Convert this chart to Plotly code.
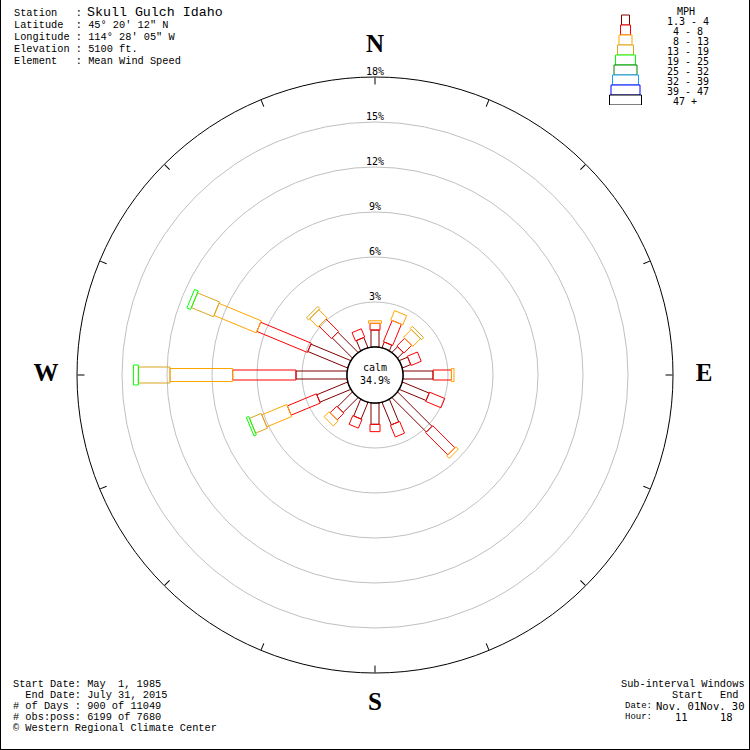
import math
import plotly.graph_objects as go

# ---------------- data ----------------
directions = ["N", "NNE", "NE", "ENE", "E", "ESE", "SE", "SSE",
              "S", "SSW", "SW", "WSW", "W", "WNW", "NW", "NNW"]
bearings = [0, 22.5, 45, 67.5, 90, 112.5, 135, 157.5,
            180, 202.5, 225, 247.5, 270, 292.5, 315, 337.5]
speed_classes = ["1.3 - 4", "4 - 8", "8 - 13", "13 - 19", "19 - 25",
                 "25 - 32", "32 - 39", "39 - 47", "47 +"]
# percent frequency per direction for each speed class (MPH)
pct_1_3_to_4 = [1.13, 0.40, 0.53, 0.60, 2.00, 1.93, 3.24, 1.62,
                1.42, 1.20, 1.40, 2.22, 3.40, 2.87, 1.90, 0.73]
pct_4_to_8 = [0.45, 1.53, 0.73, 0.73, 1.23, 1.10, 2.09, 0.85,
              0.49, 0.63, 0.63, 2.10, 4.22, 3.65, 1.18, 0.60]
pct_8_to_13 = [0.17, 0.67, 0.73, 0.00, 0.17, 0.00, 0.23, 0.00,
               0.00, 0.00, 0.47, 1.80, 4.18, 3.05, 0.78, 0.00]
pct_13_to_19 = [0.00, 0.00, 0.20, 0.00, 0.00, 0.00, 0.00, 0.00,
                0.00, 0.00, 0.00, 0.85, 2.11, 1.59, 0.20, 0.00]
pct_19_to_25 = [0.00, 0.00, 0.00, 0.00, 0.00, 0.00, 0.00, 0.00,
                0.00, 0.00, 0.00, 0.17, 0.33, 0.27, 0.00, 0.00]
pct_25_to_32 = [0.0] * 16
pct_32_to_39 = [0.0] * 16
pct_39_to_47 = [0.0] * 16
pct_47_plus = [0.0] * 16
calm_pct = 34.9
ring_pcts = [3, 6, 9, 12, 15, 18]
compass_labels = ["N", "E", "S", "W"]
compass_bearings = [0, 90, 180, 270]

station_lines = [("Station\u00a0\u00a0\u00a0:", "Skull Gulch Idaho"),
                 ("Latitude\u00a0\u00a0: 45\u00b0 20' 12\" N", None),
                 ("Longitude : 114\u00b0 28' 05\" W", None),
                 ("Elevation : 5100 ft.", None),
                 ("Element\u00a0\u00a0\u00a0: Mean Wind Speed", None)]
period_lines = ["Start Date: May\u00a0\u00a01, 1985",
                "\u00a0\u00a0End Date: July 31, 2015",
                "# of Days : 900 of 11049",
                "# obs:poss: 6199 of 7680",
                "\u00a9\u00a0Western Regional Climate Center"]

# ---------------- style ----------------
class_colors = ["#800000", "#ff0000", "#ffa500", "#daa520", "#00ff00",
                "#008000", "#1e9bff", "#0000ff", "#000000"]
half_width_px = [4, 5, 6.5, 8, 10, 11.5, 13, 14.5, 16]
legend_width_px = [8, 10, 13, 16, 20, 23, 26, 29, 32]
PX_PER_PCT = 15.0
CALM_R = 28 / PX_PER_PCT           # calm circle radius in percent units
R_MAX = CALM_R + ring_pcts[-1]
W = H = 750
CX = CY = 375
R_PX = R_MAX * PX_PER_PCT
COMPASS_R_PX = 329

classes = [pct_1_3_to_4, pct_4_to_8, pct_8_to_13, pct_13_to_19, pct_19_to_25,
           pct_25_to_32, pct_32_to_39, pct_39_to_47, pct_47_plus]

fig = go.Figure()

# petals: stacked rectangles of constant width
for k, vals in enumerate(classes):
    rr, tt = [], []
    hw = half_width_px[k] / PX_PER_PCT
    for j, b in enumerate(bearings):
        v = vals[j]
        if v <= 0:
            continue
        d0 = CALM_R + sum(classes[m][j] for m in range(k))
        d1 = d0 + v
        for d, s in [(d0, -hw), (d1, -hw), (d1, hw), (d0, hw), (d0, -hw)]:
            rr.append(math.hypot(d, s))
            tt.append(b + math.degrees(math.atan2(s, d)))
        rr.append(None)
        tt.append(None)
    if rr:
        fig.add_trace(go.Scatterpolar(r=rr, theta=tt, mode="lines",
                                      line=dict(color=class_colors[k], width=1),
                                      hoverinfo="skip", showlegend=False))

# calm circle
circ_t = [i * 3 for i in range(121)]
fig.add_trace(go.Scatterpolar(r=[CALM_R] * len(circ_t), theta=circ_t, mode="lines",
                              fill="toself", fillcolor="white",
                              line=dict(color="black", width=1.5),
                              hoverinfo="skip", showlegend=False))
fig.add_trace(go.Scatterpolar(r=[0], theta=[0], mode="text",
                              text=["calm<br>%.1f%%" % calm_pct],
                              textposition="middle center",
                              textfont=dict(family="DejaVu Sans Mono", size=10, color="black"),
                              hoverinfo="skip", showlegend=False))

# ring labels
fig.add_trace(go.Scatterpolar(r=[CALM_R + p for p in ring_pcts], theta=[0] * len(ring_pcts),
                              mode="text", text=["%d%%" % p for p in ring_pcts],
                              textposition="top center", cliponaxis=False,
                              textfont=dict(family="DejaVu Sans Mono", size=10, color="black"),
                              hoverinfo="skip", showlegend=False))

# compass letters on an outer, invisible polar frame
fig.add_trace(go.Scatterpolar(r=[1] * 4, theta=compass_bearings, mode="text",
                              text=["<b>%s</b>" % c for c in compass_labels], subplot="polar2",
                              textposition="middle center", cliponaxis=False,
                              textfont=dict(family="Liberation Serif", size=25, color="black"),
                              hoverinfo="skip", showlegend=False))

# legend boxes (cartesian helper axes, 1 unit = 1 px horizontally)
LEG_CX = 25.5
fig.add_trace(go.Bar(orientation="h", y=list(range(len(speed_classes))),
                     x=legend_width_px,
                     base=[LEG_CX - w / 2 for w in legend_width_px],
                     width=1.0,
                     marker=dict(color="white", line=dict(color=class_colors, width=1)),
                     xaxis="x", yaxis="y", hoverinfo="skip", showlegend=False))

annotations = []
leg_labels = ["1.3 - 4", "\u00a04 - 8", "\u00a08 - 13", "13 - 19", "19 - 25",
              "25 - 32", "32 - 39", "39 - 47", "\u00a047 +"]
for i, lab in enumerate(leg_labels):
    annotations.append(dict(x=65, y=i + 0.15, xref="x", yref="y", text=lab,
                            showarrow=False, xanchor="left", yanchor="middle",
                            font=dict(family="DejaVu Sans Mono", size=10, color="black")))
annotations.append(dict(x=86, y=-0.9, xref="x", yref="y", text="MPH", showarrow=False,
                        xanchor="center", yanchor="middle",
                        font=dict(family="DejaVu Sans Mono", size=10, color="black")))


def px(x, y):
    return x / W, 1 - y / H


hdr_font = dict(family="Liberation Mono", size=10.3, color="black")
small_font = dict(family="Liberation Mono", size=9, color="black")
val_font = dict(family="DejaVu Sans Mono", size=10.5, color="black")
for i, (lab, big) in enumerate(station_lines):
    x, y = px(12, 13 + 12 * i)
    annotations.append(dict(x=x, y=y, xref="paper", yref="paper", text=lab, showarrow=False,
                            xanchor="left", yanchor="middle", font=hdr_font))
    if big:
        x, y = px(85, 12.5)
        annotations.append(dict(x=x, y=y, xref="paper", yref="paper", text=big, showarrow=False,
                                xanchor="left", yanchor="middle",
                                font=dict(family="Liberation Mono", size=13.3, color="black")))

for i, lab in enumerate(period_lines):
    x, y = px(11, 684 + 11 * i)
    annotations.append(dict(x=x, y=y, xref="paper", yref="paper", text=lab, showarrow=False,
                            xanchor="left", yanchor="middle", font=hdr_font))

br = [(619, 683.5, "Sub-interval Windows", hdr_font),
      (670, 695, "Start", hdr_font),
      (718, 695, "End", hdr_font),
      (623, 706, "Date:", small_font),
      (654, 706, "Nov. 01Nov. 30", val_font),
      (623, 717, "Hour:", small_font),
      (673, 717, "11", val_font),
      (718, 717, "18", val_font)]
for bx, by, t, f in br:
    x, y = px(bx, by)
    annotations.append(dict(x=x, y=y, xref="paper", yref="paper", text=t, showarrow=False,
                            xanchor="left", yanchor="middle", font=f))

dom = [(CX - R_PX) / W, (CX + R_PX) / W]
dom2 = [(CX - COMPASS_R_PX) / W, (CX + COMPASS_R_PX) / W]

fig.update_layout(
    width=W, height=H, margin=dict(l=0, r=0, t=0, b=0),
    paper_bgcolor="white", plot_bgcolor="white",
    showlegend=False,
    polar=dict(
        domain=dict(x=dom, y=dom),
        bgcolor="white",
        radialaxis=dict(range=[0, R_MAX], tickvals=[CALM_R + p for p in ring_pcts[:-1]],
                        showticklabels=False, ticks="", showline=False,
                        gridcolor="#c0c0c0", gridwidth=1),
        angularaxis=dict(rotation=90, direction="clockwise",
                         tickvals=bearings, showticklabels=False,
                         ticks="inside", ticklen=7, tickcolor="black", tickwidth=1,
                         showgrid=False, showline=True, linecolor="black", linewidth=1),
    ),
    polar2=dict(
        domain=dict(x=dom2, y=dom2),
        bgcolor="rgba(0,0,0,0)",
        radialaxis=dict(range=[0, 1], visible=False),
        angularaxis=dict(rotation=90, direction="clockwise", visible=False),
    ),
    xaxis=dict(domain=[600 / W, 1.0], range=[0, 150], visible=False, fixedrange=True),
    yaxis=dict(domain=[1 - 105 / H, 1 - 5 / H], range=[8.5, -1.5], visible=False,
               fixedrange=True),
    annotations=annotations,
    shapes=[dict(type="line", xref="paper", yref="paper", x0=0, y0=0, x1=0, y1=1,
                 line=dict(color="black", width=2)),
            dict(type="line", xref="paper", yref="paper", x0=0, y0=0, x1=1, y1=0,
                 line=dict(color="black", width=2)),
            dict(type="line", xref="paper", yref="paper", x0=1, y0=0, x1=1, y1=1,
                 line=dict(color="black", width=2))],
)

fig.write_html("out.html", config={"displayModeBar": False},
               post_script="document.body.style.margin='0px';")
